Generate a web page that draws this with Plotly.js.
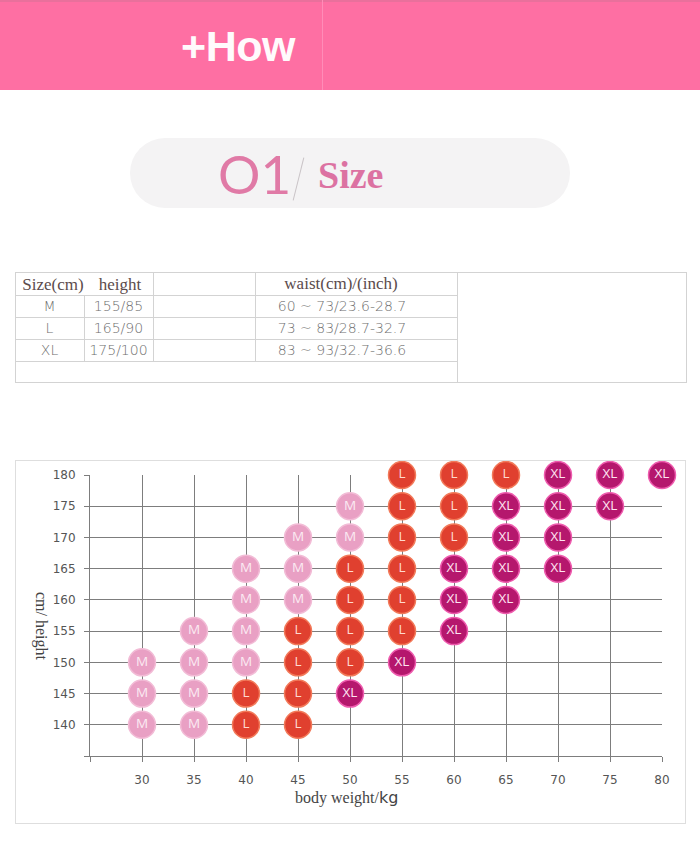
<!DOCTYPE html>
<html>
<head>
<meta charset="utf-8">
<script src="https://cdn.plot.ly/plotly-3.0.1.min.js"></script>
<style>
  html, body { margin:0; padding:0; background:#ffffff; }
  body { width:700px; height:859px; position:relative; overflow:hidden; }
  .abs { position:absolute; }
  #banner { left:0; top:0; width:700px; height:90px; background:#fe6fa3; border-top:2px solid #e9709c; box-sizing:border-box; }
  #divider { left:322px; top:0; width:1px; height:90px; background:#ff8cb8; }
  #how { left:168px; top:20px; width:140px; text-align:center; font-family:"Liberation Sans", Arial, sans-serif; font-weight:bold; font-size:43px; letter-spacing:-0.5px; color:#fffafc; line-height:52px; }
  #pill { left:130px; top:138px; width:440px; height:70px; border-radius:35px; background:#f4f3f4; }
  #o1 { left:218px; top:144px; font-family:"Lato", sans-serif; font-weight:400; font-size:53px; line-height:60px; color:#e07aa6; }
  #slash { left:298px; top:157px; width:1px; height:44px; background:#c9c3c6; transform:rotate(14deg); }
  #size { left:318px; top:152px; font-family:"Liberation Serif", serif; font-weight:bold; font-size:38px; line-height:46px; color:#dc72a2; }
  .hl { height:1px; background:#d3d3d3; }
  .vl { width:1px; background:#d3d3d3; }
  .th { font-family:"Liberation Serif", serif; font-size:17px; color:#5b4b4c; line-height:22px; text-align:center; }
  .td { font-family:"DejaVu Sans", sans-serif; font-weight:200; font-size:14px; color:#6e6e6e; line-height:22px; text-align:center; }
  #chartbox { left:15px; top:460px; width:671px; height:364px; border:1px solid #dedede; box-sizing:border-box; }
  #chart { left:16px; top:461px; width:669px; height:362px; }
</style>
</head>
<body>
<div id="banner" class="abs"></div>
<div id="divider" class="abs"></div>
<div id="how" class="abs">+How</div>

<div id="pill" class="abs"></div>
<div id="o1" class="abs">O1</div>
<div id="slash" class="abs"></div>
<div id="size" class="abs">Size</div>

<div id="table"></div>

<div id="chartbox" class="abs"></div>
<div id="chart" class="abs"></div>

<script>
// ---------- table data ----------
const tableHeaders = ["Size(cm)", "height", "waist(cm)/(inch)"];
const sizeLabels = ["M", "L", "XL"];
const heightLabels = ["155/85", "165/90", "175/100"];
const waistLabels = ["60 ~ 73/23.6-28.7", "73 ~ 83/28.7-32.7", "83 ~ 93/32.7-36.6"];

// ---------- chart data ----------
const xTicks = [25, 30, 35, 40, 45, 50, 55, 60, 65, 70, 75, 80];
const xTickText = ["", "30", "35", "40", "45", "50", "55", "60", "65", "70", "75", "80"];
const yTicks = [135, 140, 145, 150, 155, 160, 165, 170, 175, 180];
const yTickText = ["", "140", "145", "150", "155", "160", "165", "170", "175", "180"];

const mWeight = [30, 30, 30, 35, 35, 35, 35, 40, 40, 40, 40, 45, 45, 45, 50, 50];
const mHeight = [140, 145, 150, 140, 145, 150, 155, 150, 155, 160, 165, 160, 165, 170, 170, 175];

const lWeight = [40, 40, 45, 45, 45, 45, 50, 50, 50, 50, 55, 55, 55, 55, 55, 55, 60, 60, 60, 65];
const lHeight = [140, 145, 140, 145, 150, 155, 150, 155, 160, 165, 155, 160, 165, 170, 175, 180, 170, 175, 180, 180];

const xlWeight = [50, 55, 60, 60, 60, 65, 65, 65, 65, 70, 70, 70, 70, 75, 75, 80];
const xlHeight = [145, 150, 155, 160, 165, 160, 165, 170, 175, 165, 170, 175, 180, 175, 180, 180];

// ---------- build table (HTML) ----------
(function () {
  const T = document.getElementById('table');
  function box(cls, l, t, w, h, txt) {
    const d = document.createElement('div');
    d.className = 'abs ' + cls;
    d.style.left = l + 'px'; d.style.top = t + 'px';
    if (w != null) d.style.width = w + 'px';
    if (h != null) d.style.height = h + 'px';
    if (txt != null) d.textContent = txt;
    T.appendChild(d);
    return d;
  }
  const L = 15, R = 686, TOP = 272, BOT = 382, C4 = 457;
  const rowY = [272, 295, 317, 339, 361];
  box('hl', L, TOP, R - L + 1, 1);
  box('hl', L, BOT, R - L + 1, 1);
  box('vl', L, TOP, 1, BOT - TOP + 1);
  box('vl', R, TOP, 1, BOT - TOP + 1);
  box('vl', C4, TOP, 1, BOT - TOP + 1);
  for (let i = 1; i < rowY.length; i++) box('hl', L, rowY[i], C4 - L, 1);
  box('vl', 84, 295, 1, 361 - 295);
  box('vl', 153, 272, 1, 361 - 272);
  box('vl', 255, 272, 1, 361 - 272);
  box('th', 16, 274, 74, 22, tableHeaders[0]);
  box('th', 84, 274, 72, 22, tableHeaders[1]);
  box('th', 255, 273, 172, 22, tableHeaders[2]);
  for (let i = 0; i < sizeLabels.length; i++) {
    const y = rowY[i + 1] + 0;
    box('td', 15, y, 69, 22, sizeLabels[i]);
    box('td', 84, y, 69, 22, heightLabels[i]);
    box('td', 255, y, 174, 22, waistLabels[i]);
  }
})();

// ---------- chart ----------
function sizeTrace(name, xs, ys, fill, glow, txtColor) {
  return {
    type: 'scatter', mode: 'markers+text', name: name,
    x: xs, y: ys,
    text: xs.map(() => name),
    textposition: 'middle center',
    textfont: { family: 'Open Sans, sans-serif', size: 13.5, color: txtColor },
    marker: { size: 27, color: fill, line: { color: glow, width: 1.5 } },
    cliponaxis: false, hoverinfo: 'x+y+text'
  };
}
const traces = [
  sizeTrace('M', mWeight, mHeight, '#e9a0c4', '#f2bcd6', '#fbeaf2'),
  sizeTrace('L', lWeight, lHeight, '#e0402f', '#f27a5a', '#ffd9cf'),
  sizeTrace('XL', xlWeight, xlHeight, '#b5176d', '#ee5cae', '#ffe4f2')
];

const plotL = 74, plotW = 572, plotT = 14, plotH = 281;
function pxX(px) { return (px - 16 - plotL) / plotW; }
function pxY(py) { return 1 - (py - 461 - plotT) / plotH; }

const axisCommon = {
  showgrid: true, gridcolor: '#7d7d7d', gridwidth: 1,
  showline: true, linecolor: '#7d7d7d', linewidth: 1,
  ticks: 'outside', ticklen: 5, tickcolor: '#7d7d7d', tickwidth: 1,
  tickmode: 'array', zeroline: false, fixedrange: true,
  tickfont: { family: 'DejaVu Sans, sans-serif', size: 12, color: '#555555' }
};

const layout = {
  width: 669, height: 362,
  margin: { l: plotL, r: 23, t: plotT, b: 67, pad: 0 },
  paper_bgcolor: 'rgba(0,0,0,0)', plot_bgcolor: 'rgba(0,0,0,0)',
  showlegend: false,
  xaxis: Object.assign({}, axisCommon, { range: [25, 80], tickvals: xTicks, ticktext: xTickText, ticklabelstandoff: 8 }),
  yaxis: Object.assign({}, axisCommon, { range: [135, 180], tickvals: yTicks, ticktext: yTickText, ticklabelstandoff: 6 }),
  annotations: [
    { xref: 'paper', yref: 'paper', x: pxX(346), y: pxY(797), xanchor: 'center', yanchor: 'middle',
      showarrow: false,
      text: 'body weight/<span style="font-family:DejaVu Sans">kg</span>',
      font: { family: 'Liberation Serif, serif', size: 16, color: '#444444' } },
    { xref: 'paper', yref: 'paper', x: pxX(41), y: pxY(626), xanchor: 'center', yanchor: 'middle',
      showarrow: false, textangle: 90,
      text: 'cm/ height',
      font: { family: 'Liberation Serif, serif', size: 16, color: '#444444' } }
  ]
};

Plotly.newPlot('chart', traces, layout, { displayModeBar: false, staticPlot: true });
</script>
</body>
</html>
